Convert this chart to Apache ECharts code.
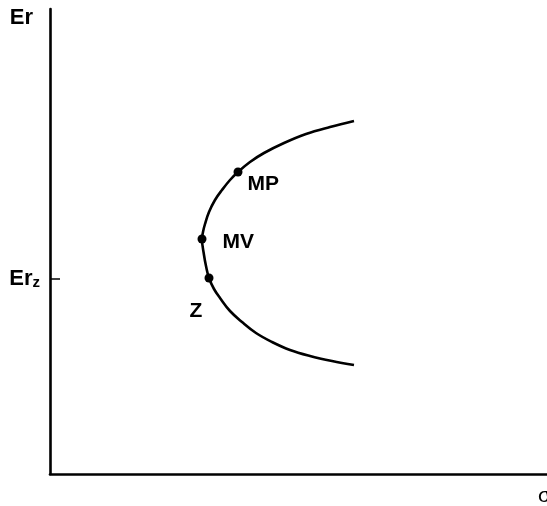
<!DOCTYPE html>
<html>
<head>
<meta charset="utf-8">
<script src="https://cdn.jsdelivr.net/npm/echarts@6/dist/echarts.min.js"></script>
<style>
html,body{margin:0;padding:0;background:#fff;}
#chart{width:547px;height:506px;}
</style>
</head>
<body>
<div id="chart"></div>
<script>
// Frontier curve (sigma, expected return), top to bottom
const curveSigma  = [304, 280, 256, 234, 214, 200, 188, 180, 172, 165, 159, 155, 153, 152, 154, 156, 159, 164, 170, 180, 192, 206, 222, 240, 260, 282, 304];
const curveReturn = [353, 347, 340, 331, 321, 312, 302, 294, 284, 274, 262, 250, 242, 235, 219, 208, 196, 185, 176, 163, 152, 141, 132, 124, 118, 113, 109];

// Marked portfolios
const pointNames  = ['MP', 'MV', 'Z'];
const pointSigma  = [188, 152, 159];
const pointReturn = [302, 235, 196];

// Y-axis tick
const yTickValues = [195];
const yTickLabel  = '{a|Er}{b|z}';

const FONT = 'Liberation Sans, Arial, sans-serif';

const curveData = curveSigma.map((s, i) => [s, curveReturn[i]]);
const labelCfg = {
  MP: { position: 'right', offset: [0, 12] },
  MV: { position: 'right', offset: [11, 3] },
  Z:  { position: 'bottom', offset: [-13, 13] }
};
const pointData = pointNames.map((n, i) => ({
  name: n,
  value: [pointSigma[i], pointReturn[i]],
  label: Object.assign({ show: true, formatter: n }, labelCfg[n])
}));

const chart = echarts.init(document.getElementById('chart'));
chart.setOption({
  animation: false,
  grid: { left: 50, right: 0, top: 9, bottom: 32, outerBoundsMode: 'none', containLabel: false },
  xAxis: {
    type: 'value', min: 0, max: 497,
    name: 'σ', nameLocation: 'end', nameGap: -9,
    nameTextStyle: { fontFamily: FONT, fontSize: 21, color: '#000', verticalAlign: 'top', padding: [12, 0, 0, 0] },
    axisLine: { show: true, lineStyle: { color: '#000', width: 2.6 } },
    axisTick: { show: false },
    axisLabel: { show: false },
    splitLine: { show: false }
  },
  yAxis: {
    type: 'value', min: 0, max: 465,
    name: 'Er', nameLocation: 'end', nameGap: -9,
    nameTextStyle: { fontFamily: FONT, fontSize: 22, fontWeight: 'bold', color: '#000', align: 'right', verticalAlign: 'middle', padding: [0, 17, 0, 0] },
    axisLine: { show: true, lineStyle: { color: '#000', width: 2.6 } },
    axisTick: { show: true, inside: true, length: 10, customValues: yTickValues, lineStyle: { color: '#000', width: 1.5 } },
    axisLabel: {
      show: true, customValues: yTickValues, margin: 10,
      formatter: () => yTickLabel,
      rich: {
        a: { fontFamily: FONT, fontSize: 22, fontWeight: 'bold', color: '#000' },
        b: { fontFamily: FONT, fontSize: 15, fontWeight: 'bold', color: '#000', verticalAlign: 'bottom', padding: [7, 0, 0, 0] }
      }
    },
    splitLine: { show: false }
  },
  series: [
    {
      type: 'line', data: curveData, smooth: 0.4, symbol: 'none',
      lineStyle: { color: '#000', width: 2.6 }, z: 2
    },
    {
      type: 'scatter', data: pointData, symbol: 'circle', symbolSize: 9,
      itemStyle: { color: '#000', opacity: 1 },
      label: { fontFamily: FONT, fontSize: 21, fontWeight: 'bold', color: '#000', opacity: 1 },
      z: 3
    }
  ]
});
</script>
</body>
</html>
